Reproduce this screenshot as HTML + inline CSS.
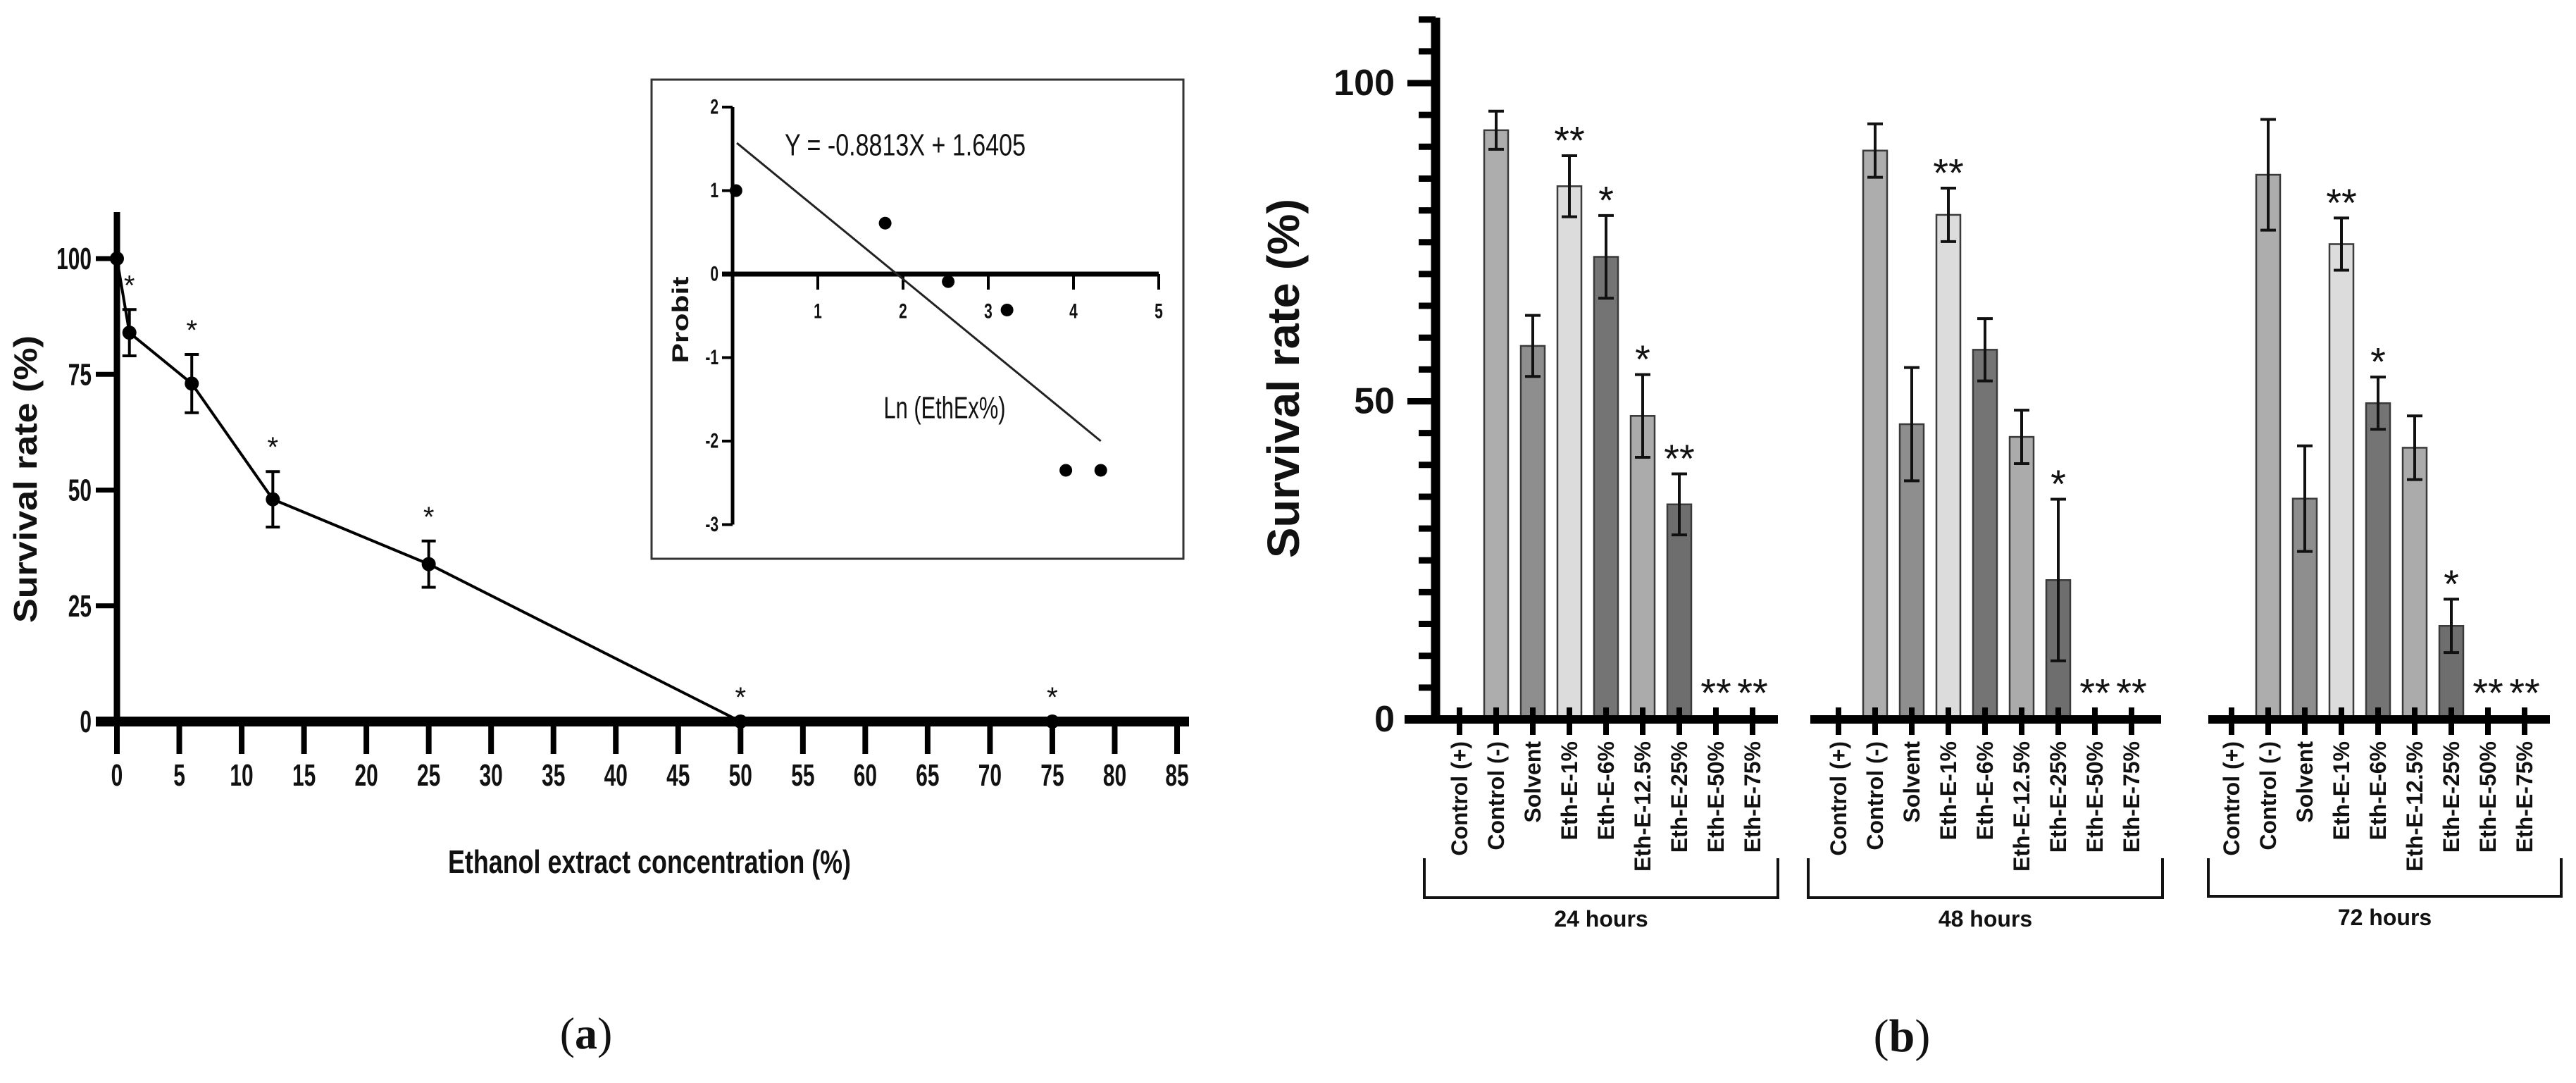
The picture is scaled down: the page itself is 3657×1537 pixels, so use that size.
<!DOCTYPE html>
<html><head><meta charset="utf-8"><style>html,body{margin:0;padding:0;background:#fff}svg{display:block}</style></head>
<body>
<svg id="fig" width="3657" height="1537" viewBox="0 0 3657 1537" xmlns="http://www.w3.org/2000/svg" font-family="'Liberation Sans', sans-serif">
<rect width="3657" height="1537" fill="#fff"/>
</svg>
<script>
// ---------- panel (a) data ----------
const concA = [0, 1, 6, 12.5, 25, 50, 75];
const survA = [100, 84, 73, 48, 34, 0, 0];
const errA  = [0, 5, 6.3, 6, 5, 0, 0];
const starA = ["", "*", "*", "*", "*", "*", "*"];
const xTicksA = [0,5,10,15,20,25,30,35,40,45,50,55,60,65,70,75,80,85];
const yTicksA = [0,25,50,75,100];
// ---------- inset data ----------
const lnX = [0.04, 1.79, 2.53, 3.22, 3.91, 4.32];
const probitY = [1.0, 0.61, -0.09, -0.43, -2.35, -2.35];
const fitX = [0.05, 4.32];
const fitY = [1.57, -2.0];
const insetXTicks = [1,2,3,4,5];
const insetYTicks = [2,1,0,-1,-2,-3];
// ---------- panel (b) data ----------
const categories = ["Control (+)","Control (-)","Solvent","Eth-E-1%","Eth-E-6%","Eth-E-12.5%","Eth-E-25%","Eth-E-50%","Eth-E-75%"];
const groups = ["24 hours","48 hours","72 hours"];
const vals24 = [0, 92.6, 58.7, 83.8, 72.7, 47.7, 33.8, 0, 0];
const err24  = [0, 3.0, 4.8, 4.8, 6.5, 6.5, 4.8, 0, 0];
const vals48 = [0, 89.4, 46.4, 79.3, 58.1, 44.4, 21.9, 0, 0];
const err48  = [0, 4.2, 8.9, 4.2, 4.9, 4.2, 12.7, 0, 0];
const vals72 = [0, 85.6, 34.7, 74.7, 49.7, 42.7, 14.7, 0, 0];
const err72  = [0, 8.7, 8.3, 4.1, 4.1, 5.0, 4.2, 0, 0];
const stars24 = ["","","","**","*","*","**","**","**"];
const stars48 = ["","","","**","","","*","**","**"];
const stars72 = ["","","","**","*","","*","**","**"];
const yTicksB = [0,50,100];

const NS = "http://www.w3.org/2000/svg";
const svg = document.getElementById('fig');
function el(tag, attrs, parent) {
  const e = document.createElementNS(NS, tag);
  for (const k in attrs) e.setAttribute(k, attrs[k]);
  (parent || svg).appendChild(e);
  return e;
}
function txt(x, y, s, size, weight, anchor, rot, sx, parent) {
  const t = document.createElementNS(NS, 'text');
  let tr = 'translate(' + x + ',' + y + ')';
  if (rot) tr += ' rotate(' + rot + ')';
  if (sx && sx !== 1) tr += ' scale(' + sx + ',1)';
  t.setAttribute('transform', tr);
  t.setAttribute('font-size', size);
  t.setAttribute('font-weight', weight);
  t.setAttribute('text-anchor', anchor);
  t.setAttribute('dominant-baseline', 'central');
  t.setAttribute('fill', '#111');
  t.textContent = s;
  (parent || svg).appendChild(t);
  return t;
}

// ================= Panel (a) =================
const xa = v => 166 + v * 17.706;
const ya = v => 1024 - v * 6.57;
const gA = el('g', {});  
// axes
let ax = el('line', {x1: 166, y1: 301, x2: 166, y2: 1024, stroke: '#000', 'stroke-width': 9}, gA);
 
ax = el('line', {x1: 136, y1: 1024, x2: 1688, y2: 1024, stroke: '#000', 'stroke-width': 14}, gA);
 
xTicksA.forEach(v => {
  el('line', {x1: xa(v), y1: 1024, x2: xa(v), y2: 1070, stroke: '#000', 'stroke-width': 8}, gA);
  const t = txt(xa(v), 1100, String(v), 44, 'bold', 'middle', 0, 0.68, gA);
   
});
yTicksA.forEach(v => {
  el('line', {x1: 136, y1: ya(v), x2: 166, y2: ya(v), stroke: '#000', 'stroke-width': 7}, gA);
  const t = txt(130, ya(v), String(v), 44, 'bold', 'end', 0, 0.68, gA);
   
});
let t = txt(36, 680, 'Survival rate (%)', 46, 'bold', 'middle', -90, 1, gA);
t.setAttribute('textLength', 408); t.setAttribute('lengthAdjust', 'spacingAndGlyphs');
 
t = txt(922, 1223, 'Ethanol extract concentration (%)', 46, 'bold', 'middle', 0, 1, gA);
t.setAttribute('textLength', 572); t.setAttribute('lengthAdjust', 'spacingAndGlyphs');
 
// line
let pts = concA.map((c, i) => xa(c) + ',' + ya(survA[i])).join(' ');
let pl = el('polyline', {points: pts, fill: 'none', stroke: '#000', 'stroke-width': 4}, gA);
 
concA.forEach((c, i) => {
  const x = xa(c);
  if (errA[i] > 0) {
    const y1 = ya(survA[i] + errA[i]), y2 = ya(survA[i] - errA[i]);
    const eb = el('path', {d: `M${x},${y1}V${y2}M${x-10},${y1}H${x+10}M${x-10},${y2}H${x+10}`, stroke: '#000', 'stroke-width': 4, fill: 'none'}, gA);
     
  }
  const p = el('circle', {cx: x, cy: ya(survA[i]), r: 10, fill: '#000'}, gA);
   
  if (starA[i]) {
    const st = txt(x, ya(survA[i] + errA[i]) - 34, starA[i], 40, 'normal', 'middle', 0, 1, gA);
     
  }
});

// ================= Inset =================
const xi = v => 1040 + v * 121;
const yi = v => 389 - v * 118.5;
const gI = el('g', {});  
let box = el('rect', {x: 925, y: 113, width: 755, height: 680, fill: 'none', stroke: '#333', 'stroke-width': 3}, gI);
 
el('line', {x1: 1040, y1: yi(2), x2: 1040, y2: yi(-3), stroke: '#000', 'stroke-width': 5}, gI);
el('line', {x1: 1025, y1: yi(0), x2: xi(5), y2: yi(0), stroke: '#000', 'stroke-width': 7}, gI);
insetXTicks.forEach(v => {
  el('line', {x1: xi(v), y1: yi(0), x2: xi(v), y2: yi(0) + 22, stroke: '#000', 'stroke-width': 4}, gI);
  const tt = txt(xi(v), 442, String(v), 30, 'bold', 'middle', 0, 0.7, gI);
   
});
insetYTicks.forEach(v => {
  el('line', {x1: 1025, y1: yi(v), x2: 1040, y2: yi(v), stroke: '#000', 'stroke-width': 4}, gI);
  const tt = txt(1020, yi(v), String(v), 30, 'bold', 'end', 0, 0.7, gI);
   
});
let fl = el('line', {x1: xi(fitX[0]), y1: yi(fitY[0]), x2: xi(fitX[1]), y2: yi(fitY[1]), stroke: '#222', 'stroke-width': 3}, gI);
 
lnX.forEach((x, i) => {
  const c = el('circle', {cx: xi(x), cy: yi(probitY[i]), r: 9, fill: '#000'}, gI);
   
});
t = txt(1285, 206, 'Y = -0.8813X + 1.6405', 44, 'normal', 'middle', 0, 1, gI);
t.setAttribute('textLength', 342); t.setAttribute('lengthAdjust', 'spacingAndGlyphs');
 
t = txt(1341, 579, 'Ln (EthEx%)', 44, 'normal', 'middle', 0, 1, gI);
t.setAttribute('textLength', 173); t.setAttribute('lengthAdjust', 'spacingAndGlyphs');
 
t = txt(966, 454, 'Probit', 32, 'bold', 'middle', -90, 1, gI);
t.setAttribute('textLength', 123); t.setAttribute('lengthAdjust', 'spacingAndGlyphs');
 

t = el('text', {x: 832, y: 1488, 'font-size': 64, 'font-family': "'Liberation Serif', serif", 'text-anchor': 'middle', fill: '#111'});
t.innerHTML = '(<tspan font-weight="bold">a</tspan>)';
 

// ================= Panel (b) =================
const yb = v => 1021 - v * 9.03;
const groupStart = [2072, 2610, 3168];
const catStep = 52;
const xb = (g, i) => groupStart[g] + i * catStep;
const barColors = ['#ffffff', '#adadad', '#8e8e8e', '#dcdcdc', '#747474', '#ababab', '#6e6e6e', '#6e6e6e', '#6e6e6e'];
const allVals = [vals24, vals48, vals72];
const allErr = [err24, err48, err72];
const allStars = [stars24, stars48, stars72];
const axisSeg = [[1994, 2524], [2570, 3068], [3135, 3620]];
const bracket = [[2022, 2524, 1274], [2567, 3070, 1274], [3135, 3636, 1272]];
const gB = el('g', {});  

ax = el('line', {x1: 2038, y1: 25, x2: 2038, y2: 1021, stroke: '#000', 'stroke-width': 13}, gB);
 
for (let v = 0; v <= 110; v += 5) {
  const major = yTicksB.indexOf(v) >= 0;
  el('line', {x1: major ? 1998 : 2014, y1: yb(v), x2: 2038, y2: yb(v), stroke: '#000', 'stroke-width': 9}, gB);
}
yTicksB.forEach(v => {
  const tt = txt(1980, yb(v), String(v), 52, 'bold', 'end', 0, 1, gB);
   
});
t = txt(1822, 537, 'Survival rate (%)', 64, 'bold', 'middle', -90, 1, gB);
t.setAttribute('textLength', 510); t.setAttribute('lengthAdjust', 'spacingAndGlyphs');
 

for (let g = 0; g < 3; g++) {
  const vals = allVals[g], errs = allErr[g], stars = allStars[g];
  categories.forEach((c, i) => {
    const x = xb(g, i);
    if (vals[i] > 0) {
      const b = el('rect', {x: x - 17, y: yb(vals[i]), width: 34, height: yb(0) - yb(vals[i]), fill: barColors[i], stroke: '#3a3a3a', 'stroke-width': 2.5}, gB);
      
      
    }
    if (errs[i] > 0) {
      const y1 = yb(vals[i] + errs[i]), y2 = yb(vals[i] - errs[i]);
      const eb = el('path', {d: `M${x},${y1}V${y2}M${x-11},${y1}H${x+11}M${x-11},${y2}H${x+11}`, stroke: '#111', 'stroke-width': 4, fill: 'none'}, gB);
       
    }
    if (stars[i]) {
      const top = vals[i] > 0 ? yb(vals[i] + errs[i]) - 22 : yb(0) - 38;
      const st = txt(x, top, stars[i], 56, 'normal', 'middle', 0, 1, gB);
       
    }
    el('line', {x1: x, y1: yb(0) - 17, x2: x, y2: yb(0) + 22, stroke: '#000', 'stroke-width': 8}, gB);
    const lb = txt(x, 1052, c, 32, 'bold', 'end', -90, 1, gB);
     
  });
  const xl = el('line', {x1: axisSeg[g][0], y1: yb(0), x2: axisSeg[g][1], y2: yb(0), stroke: '#000', 'stroke-width': 12}, gB);
   
  const [bx1, bx2, by] = bracket[g];
  const br = el('path', {d: `M${bx1},1218 V${by} H${bx2} V1218`, fill: 'none', stroke: '#111', 'stroke-width': 4}, gB);
   
  const gl = txt((bx1 + bx2) / 2, by + 30, groups[g], 32, 'bold', 'middle', 0, 1, gB);
   
}

t = el('text', {x: 2700, y: 1492, 'font-size': 66, 'font-family': "'Liberation Serif', serif", 'text-anchor': 'middle', fill: '#111'});
t.innerHTML = '(<tspan font-weight="bold">b</tspan>)';
 
</script>
</body></html>
